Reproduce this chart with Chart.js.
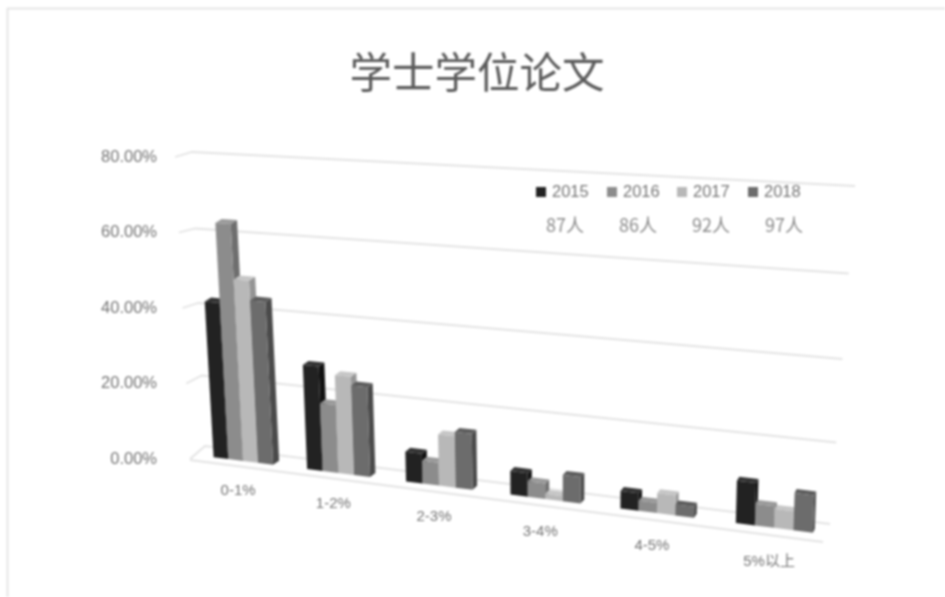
<!DOCTYPE html>
<html>
<head>
<meta charset="utf-8">
<title>学士学位论文</title>
<script src="https://cdn.jsdelivr.net/npm/chart.js@4"></script>
<style>
  body { margin: 0; background: #fff; }
  /* reference is a soft, low quality scan */
  #chart { display: block; filter: blur(1px); }
</style>
</head>
<body>
<canvas id="chart" width="945" height="597"></canvas>
<script>
const categories = ["0-1%", "1-2%", "2-3%", "3-4%", "4-5%", "5%以上"];
const seriesNames = ["2015", "2016", "2017", "2018"];
const headCounts = ["87人", "86人", "92人", "97人"];

const values2015 = [41, 26.8, 7.5, 5.8, 4.2, 9.9];
const values2016 = [62, 17.4, 5.7, 3.8, 2.4, 5];
const values2017 = [47.5, 25, 12.8, 1.2, 4.7, 4.4];
const values2018 = [42.3, 22.8, 13.9, 6.4, 2.6, 8.6];

const frontColors = ["#222222", "#8c8c8c", "#b8b8b8", "#6c6c6c"];
const sideColors = ["#111111", "#6e6e6e", "#949494", "#4a4a4a"];
const topColors = ["#333333", "#9a9a9a", "#c6c6c6", "#5c5c5c"];

const gridColor = "#e3e3e3";
const textColor = "#747474";

// the 3d look: bend the flat scale pixels into the perspective of the picture
function bendX(px) {
  const x = 190 + ((px - 190) * 635) / 666;
  return x + 0.000243 * (x - 243) * (x - 772);
}

function project(chart, px, py) {
  const zeroY = chart.scales.y.getPixelForValue(0);
  const h = zeroY - py;
  const x = bendX(px);
  const grow = 1 + (x - 192) * 0.00024;
  return {
    x: x + 0.000166 * h * (x - 560),
    y: 457 + 0.126 * (x - 212) - h * grow,
  };
}

function fillPoly(ctx, points, color) {
  ctx.fillStyle = color;
  ctx.beginPath();
  points.forEach((p, i) => (i ? ctx.lineTo(p.x, p.y) : ctx.moveTo(p.x, p.y)));
  ctx.closePath();
  ctx.fill();
}

function drawWall(chart) {
  const ctx = chart.ctx;
  const yScale = chart.scales.y;
  ctx.save();
  ctx.strokeStyle = gridColor;
  ctx.lineWidth = 1.8;
  yScale.ticks.forEach((tick) => {
    const t = 1 - tick.value / 80;
    const py = yScale.getPixelForValue(tick.value);
    const bow = 16 * t * (1 - t);
    ctx.beginPath();
    ctx.moveTo(175 + 15 * t, py);
    ctx.lineTo(192 + 13 * t, py - 5 - 8 * t + bow);
    ctx.lineTo(855 - 25 * t, py + 29 + 36 * t + bow);
    ctx.stroke();
  });
  // front edge of the floor
  const zeroY = yScale.getPixelForValue(0);
  ctx.beginPath();
  ctx.moveTo(190, zeroY + 1);
  ctx.lineTo(823, zeroY + 83);
  ctx.stroke();
  ctx.restore();
}

function drawBars(chart) {
  const ctx = chart.ctx;
  seriesNames.forEach((name, d) => {
    chart.getDatasetMeta(d).data.forEach((bar) => {
      const left = bar.x - bar.width / 2;
      const right = bar.x + bar.width / 2;
      const a = project(chart, left, bar.base);
      const b = project(chart, right, bar.base);
      const c = project(chart, right, bar.y);
      const e = project(chart, left, bar.y);
      const depthX = 6.5 - (4.5 * (b.x - 212)) / 596;
      const depthY = -4;
      const move = (p) => ({ x: p.x + depthX, y: p.y + depthY });
      fillPoly(ctx, [b, c, move(c), move(b)], sideColors[d]);
      fillPoly(ctx, [e, c, move(c), move(e)], topColors[d]);
      fillPoly(ctx, [a, b, c, e], frontColors[d]);
    });
  });
}

function drawCategoryLabels(chart) {
  const ctx = chart.ctx;
  const xScale = chart.scales.x;
  const zeroY = chart.scales.y.getPixelForValue(0);
  ctx.save();
  ctx.fillStyle = textColor;
  ctx.font = '15px "Liberation Sans", "Noto Sans CJK SC"';
  ctx.textAlign = "center";
  ctx.textBaseline = "middle";
  categories.forEach((label, i) => {
    const p = project(chart, xScale.getPixelForTick(i), zeroY);
    ctx.fillText(xScale.getLabelForValue(i), p.x - 5, p.y + 30 + i * 0.8);
  });
  ctx.restore();
}

function drawKey(chart) {
  const ctx = chart.ctx;
  const markX = [541, 612, 682, 753];
  const countX = [565, 638, 711, 784];
  ctx.save();
  ctx.textBaseline = "middle";
  seriesNames.forEach((name, i) => {
    ctx.fillStyle = frontColors[i];
    ctx.fillRect(markX[i] - 5, 187, 10, 10);
    ctx.fillStyle = textColor;
    ctx.textAlign = "left";
    ctx.font = '16.5px "Liberation Sans"';
    ctx.fillText(name, markX[i] + 11, 192);
    ctx.fillStyle = "#8a8a8a";
    ctx.textAlign = "center";
    ctx.font = '18px "Noto Sans CJK SC"';
    ctx.fillText(headCounts[i], countX[i], 225);
  });
  ctx.restore();
}

const perspectivePlugin = {
  id: "perspective",
  beforeDraw(chart) {
    const ctx = chart.ctx;
    ctx.save();
    ctx.fillStyle = "#ffffff";
    ctx.fillRect(0, 0, chart.width, chart.height);
    // frame of the picture, only top and left show
    ctx.strokeStyle = "#dedede";
    ctx.lineWidth = 1.5;
    ctx.beginPath();
    ctx.moveTo(7.5, chart.height);
    ctx.lineTo(7.5, 8.5);
    ctx.lineTo(chart.width, 8.5);
    ctx.stroke();
    ctx.restore();
  },
  beforeDatasetsDraw(chart) {
    drawWall(chart);
    drawBars(chart);
    drawCategoryLabels(chart);
    drawKey(chart);
    return false; // bars are done above
  },
};

new Chart(document.getElementById("chart"), {
  type: "bar",
  data: {
    labels: categories,
    datasets: [
      { label: seriesNames[0], data: values2015, backgroundColor: frontColors[0] },
      { label: seriesNames[1], data: values2016, backgroundColor: frontColors[1] },
      { label: seriesNames[2], data: values2017, backgroundColor: frontColors[2] },
      { label: seriesNames[3], data: values2018, backgroundColor: frontColors[3] },
    ],
  },
  options: {
    responsive: false,
    animation: false,
    events: [],
    layout: { padding: { left: 96, right: 87, top: 0, bottom: 130 } },
    datasets: { bar: { categoryPercentage: 0.643, barPercentage: 1 } },
    plugins: {
      legend: { display: false },
      tooltip: { enabled: false },
      title: {
        display: true,
        text: "学士学位论文",
        color: "#5a5a5a",
        font: { family: '"Noto Sans CJK SC"', size: 42.5, weight: "normal", lineHeight: 1.2 },
        padding: { top: 46.5, bottom: 59.5 },
      },
    },
    scales: {
      x: {
        grid: { display: false },
        border: { display: false },
        ticks: { display: false },
      },
      y: {
        min: 0,
        max: 80,
        afterFit(scale) {
          scale.width = 94;
        },
        grid: { display: false, drawTicks: false },
        border: { display: false },
        ticks: {
          stepSize: 20,
          padding: 33,
          color: textColor,
          font: { family: '"Liberation Sans"', size: 16.5 },
          callback: (value) => value.toFixed(2) + "%",
        },
      },
    },
  },
  plugins: [perspectivePlugin],
});
</script>
</body>
</html>
